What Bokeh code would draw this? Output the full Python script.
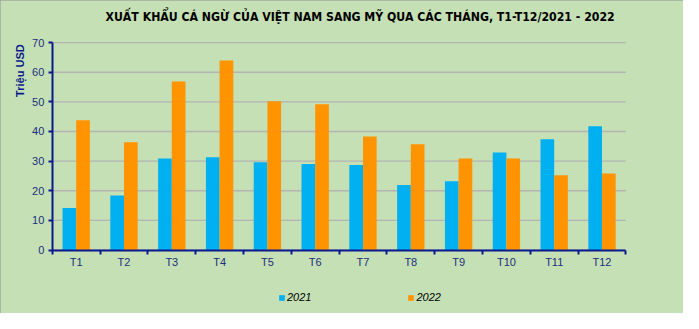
import numpy as np
from bokeh.plotting import figure
from bokeh.models import (Range1d, FixedTicker, Label, Legend, LegendItem, ColumnDataSource)
from bokeh.transform import dodge
from bokeh.embed import file_html
from bokeh.resources import INLINE

months = ["T1", "T2", "T3", "T4", "T5", "T6", "T7", "T8", "T9", "T10", "T11", "T12"]
y2021 = [14.2, 18.4, 30.9, 31.3, 29.6, 29.0, 28.7, 21.9, 23.2, 32.9, 37.4, 41.8]
y2022 = [43.8, 36.4, 56.9, 64.0, 50.2, 49.2, 38.3, 35.7, 30.9, 30.9, 25.2, 25.8]
y_ticks = [0, 10, 20, 30, 40, 50, 60, 70]
title_text = "XUẤT KHẨU CÁ NGỪ CỦA VIỆT NAM SANG MỸ QUA CÁC THÁNG, T1-T12/2021 - 2022"
ylabel_text = "Triệu USD"

BG = "#c5e0b4"
C21 = "#00b0f0"
C22 = "#ff9400"
NAVY = "#0a1a8c"
TXT = "#1c2f80"
GRID = "#b4b4b4"
FONT = "Liberation Sans"
NARROW = "'Liberation Sans Narrow', 'DejaVu Sans Condensed', 'Liberation Sans'"

# page layout (pixels): the plot frame covers the whole canvas
W, H = 683, 313
LEFT_PX, RIGHT_PX = 51.8, 625.4      # screen columns of the plot area edges
ZERO_PX, TOP_PX = 249.5, 42.1        # screen rows of y=0 and y=70
n = len(months)
cw = (RIGHT_PX - LEFT_PX) / n
k = (ZERO_PX - TOP_PX) / 70.0
x_lo, x_hi = -LEFT_PX / cw, n + (W - RIGHT_PX) / cw
y_lo, y_hi = -(H - ZERO_PX) / k, ZERO_PX / k

centers = [i + 0.5 for i in range(n)]
src = ColumnDataSource(dict(x=centers, a=y2021, b=y2022))
grid_src = ColumnDataSource(dict(y=y_ticks, x0=[0] * len(y_ticks), x1=[n] * len(y_ticks)))

p = figure(width=W, height=H, title=None, x_range=Range1d(x_lo, x_hi),
           y_range=Range1d(y_lo, y_hi),
           output_backend="svg", toolbar_location=None,
           min_border_left=0, min_border_right=0, min_border_top=0, min_border_bottom=0,
           background_fill_color=BG, border_fill_color=BG, outline_line_color=None)
p.styles = {"outline": "2px solid #8f8f8f", "outline-offset": "-2px"}

# horizontal grid lines across the plot area only
p.segment(x0="x0", x1="x1", y0="y", y1="y", source=grid_src, line_color=GRID, line_width=1.3)
p.xgrid.visible = False
p.ygrid.visible = False

bw = 0.286
r1 = p.vbar(x=dodge("x", -bw / 2, range=p.x_range), top="a", width=bw, source=src,
            fill_color=C21, line_color=None)
r2 = p.vbar(x=dodge("x", bw / 2, range=p.x_range), top="b", width=bw, source=src,
            fill_color=C22, line_color=None)

# chart title
p.add_layout(Label(x=n / 2, y=70, x_offset=21, y_offset=26, text=title_text,
                   text_align="center", text_baseline="middle",
                   text_font=NARROW, text_font_style="bold", text_font_size="12.2px",
                   text_color="#000000"))

# y label, rotated, near the top of the axis
p.add_layout(Label(x=0, y=70, x_offset=-32, y_offset=-28, text=ylabel_text,
                   angle=np.pi / 2, text_align="center", text_baseline="middle",
                   text_font=FONT, text_font_style="bold", text_font_size="11px",
                   text_color=NAVY))

# x axis at y=0: labels at category centers, ticks at boundaries (minor ticks)
xa = p.xaxis[0]
xa.fixed_location = 0
xa.bounds = (0, n)
xa.ticker = FixedTicker(ticks=centers, minor_ticks=list(range(n + 1)))
xa.major_label_overrides = {c: m for c, m in zip(centers, months)}
xa.major_tick_out = 0
xa.major_tick_in = 0
xa.minor_tick_out = 4
xa.minor_tick_in = 0
xa.minor_tick_line_color = NAVY
xa.minor_tick_line_width = 2
xa.axis_line_color = NAVY
xa.axis_line_width = 2
xa.major_label_text_font = FONT
xa.major_label_text_font_size = "11px"
xa.major_label_text_color = TXT
xa.major_label_standoff = 2

ya = p.yaxis[0]
ya.fixed_location = 0
ya.bounds = (0, 70)
ya.ticker = FixedTicker(ticks=y_ticks, minor_ticks=[])
ya.major_tick_out = 4
ya.major_tick_in = 0
ya.major_tick_line_color = NAVY
ya.major_tick_line_width = 2
ya.minor_tick_line_color = None
ya.axis_line_color = NAVY
ya.axis_line_width = 2
ya.major_label_text_font = FONT
ya.major_label_text_font_size = "11px"
ya.major_label_text_color = TXT
ya.major_label_standoff = 4

legend = Legend(items=[LegendItem(label="2021", renderers=[r1]),
                       LegendItem(label="2022", renderers=[r2])],
                orientation="horizontal", location=(278, 10),
                glyph_width=7, glyph_height=7, label_height=12, label_standoff=2,
                spacing=96, padding=0, margin=0,
                background_fill_alpha=0, border_line_color=None,
                label_text_font=FONT, label_text_font_style="italic",
                label_text_font_size="11px", label_text_color="#000000")
p.add_layout(legend, "center")

open("out.html", "w").write(file_html(p, INLINE))
